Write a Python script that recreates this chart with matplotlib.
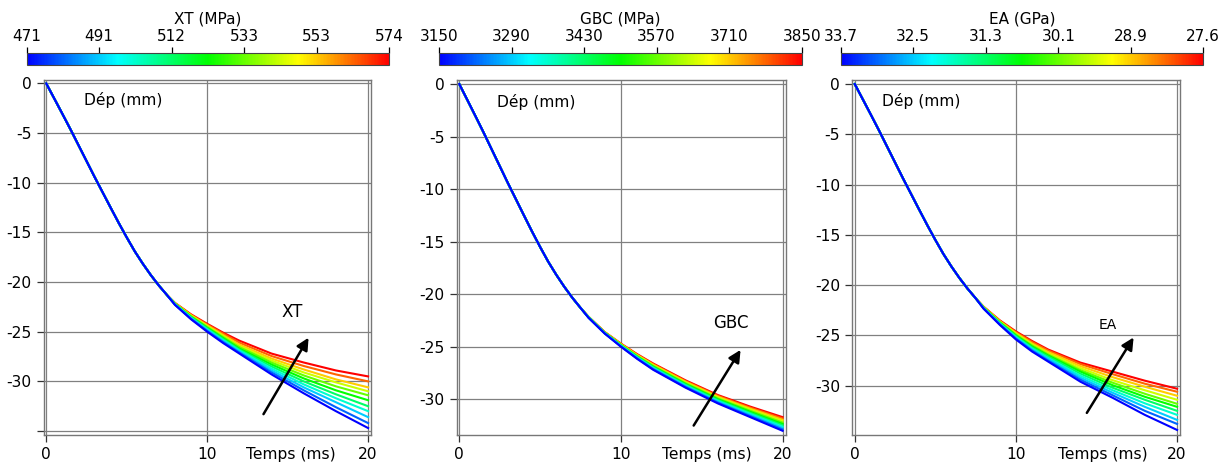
import numpy as np
import matplotlib
matplotlib.use("Agg")
import matplotlib.pyplot as plt
from matplotlib.colors import LinearSegmentedColormap, Normalize
from matplotlib.cm import ScalarMappable

plt.rcParams['font.family'] = ['DejaVu Sans']
plt.rcParams['axes.unicode_minus'] = False

# common start of every curve (time in ms, displacement in mm)
t_head = [0, 0.5, 1, 1.5, 2, 2.5, 3, 3.5, 4, 4.5, 5, 5.5, 6, 6.5, 7, 7.5]
dep_head = [0.0, -1.52, -3.05, -4.6, -6.2, -7.8, -9.4, -10.95, -12.5,
            -14.03, -15.5, -16.9, -18.15, -19.3, -20.35, -21.3]
t_tail = [8, 9, 10, 11, 12, 14, 16, 18, 20]

# tails, from the lowest parameter value (blue) to the highest (red)
xt_tails = [
    [-22.30, -23.75, -25.00, -26.15, -27.20, -29.30, -31.20, -33.00, -34.70],
    [-22.28, -23.70, -24.92, -26.05, -27.10, -29.10, -30.90, -32.60, -34.20],
    [-22.26, -23.65, -24.84, -25.95, -27.00, -28.90, -30.60, -32.10, -33.60],
    [-22.24, -23.60, -24.76, -25.85, -26.90, -28.70, -30.30, -31.70, -33.00],
    [-22.22, -23.55, -24.68, -25.75, -26.80, -28.50, -30.00, -31.30, -32.50],
    [-22.20, -23.50, -24.60, -25.65, -26.70, -28.30, -29.70, -30.90, -31.90],
    [-22.18, -23.45, -24.52, -25.55, -26.55, -28.10, -29.40, -30.50, -31.40],
    [-22.16, -23.40, -24.44, -25.45, -26.45, -27.90, -29.10, -30.10, -31.00],
    [-22.14, -23.35, -24.36, -25.35, -26.30, -27.70, -28.80, -29.80, -30.60],
    [-22.12, -23.30, -24.28, -25.20, -26.10, -27.45, -28.45, -29.30, -30.00],
    [-22.10, -23.25, -24.20, -25.10, -25.90, -27.20, -28.10, -28.90, -29.50],
]
gbc_tails = [
    [-22.25, -23.75, -25.00, -26.15, -27.20, -28.90, -30.40, -31.70, -33.00],
    [-22.24, -23.74, -24.97, -26.11, -27.14, -28.83, -30.32, -31.60, -32.87],
    [-22.23, -23.72, -24.94, -26.06, -27.08, -28.76, -30.24, -31.50, -32.74],
    [-22.22, -23.71, -24.91, -26.02, -27.02, -28.69, -30.16, -31.40, -32.61],
    [-22.21, -23.69, -24.88, -25.97, -26.96, -28.62, -30.08, -31.30, -32.48],
    [-22.20, -23.68, -24.85, -25.93, -26.90, -28.55, -30.00, -31.20, -32.35],
    [-22.19, -23.66, -24.82, -25.88, -26.84, -28.48, -29.92, -31.10, -32.22],
    [-22.18, -23.65, -24.79, -25.84, -26.78, -28.41, -29.84, -31.00, -32.09],
    [-22.17, -23.63, -24.76, -25.79, -26.72, -28.34, -29.76, -30.90, -31.96],
    [-22.16, -23.62, -24.73, -25.75, -26.66, -28.27, -29.68, -30.80, -31.83],
    [-22.15, -23.60, -24.70, -25.70, -26.60, -28.20, -29.60, -30.70, -31.70],
]
ea_tails = [
    [-22.35, -23.95, -25.40, -26.60, -27.60, -29.60, -31.20, -32.90, -34.40],
    [-22.33, -23.90, -25.32, -26.50, -27.50, -29.40, -30.95, -32.50, -33.80],
    [-22.31, -23.86, -25.24, -26.40, -27.35, -29.20, -30.70, -32.10, -33.40],
    [-22.29, -23.81, -25.16, -26.30, -27.25, -29.00, -30.45, -31.75, -32.90],
    [-22.27, -23.77, -25.08, -26.20, -27.10, -28.80, -30.20, -31.40, -32.50],
    [-22.25, -23.72, -25.00, -26.10, -27.00, -28.60, -29.95, -31.10, -32.10],
    [-22.23, -23.68, -24.92, -26.00, -26.90, -28.45, -29.70, -30.80, -31.80],
    [-22.21, -23.63, -24.84, -25.90, -26.80, -28.25, -29.45, -30.45, -31.40],
    [-22.19, -23.59, -24.76, -25.80, -26.65, -28.05, -29.15, -30.10, -31.00],
    [-22.17, -23.54, -24.68, -25.65, -26.50, -27.85, -28.85, -29.80, -30.60],
    [-22.15, -23.50, -24.60, -25.55, -26.40, -27.70, -28.60, -29.50, -30.30],
]

xt_ticks = ["471", "491", "512", "533", "553", "574"]
gbc_ticks = ["3150", "3290", "3430", "3570", "3710", "3850"]
ea_ticks = ["33.7", "32.5", "31.3", "30.1", "28.9", "27.6"]

rainbow = LinearSegmentedColormap.from_list(
    "rainbow5", [(0, 0, 1), (0, 1, 1), (0, 1, 0), (1, 1, 0), (1, 0, 0)])

W, H = 1225, 462


def px_rect(x0, y0, x1, y1):
    return [x0 / W, 1 - y1 / H, (x1 - x0) / W, (y1 - y0) / H]


def draw_panel(fig, rect, cb_rect, tails, cb_labels, cb_title, ylim, yticks,
               ylabels, name, name_xy, name_size, arrow, dep_x, temps_x):
    ax = fig.add_axes(rect)
    n = len(tails)
    # red first, blue on top
    for i in reversed(range(n)):
        t = t_head + t_tail
        y = dep_head + tails[i]
        ax.plot(t, y, color=rainbow(i / (n - 1)), lw=1.5)

    ax.set_xlim(-0.17, 20.18)
    ax.set_ylim(*ylim)
    ax.set_xticks([0, 10, 20])
    ax.set_yticks(yticks)
    ax.set_yticklabels(ylabels)
    ax.grid(True, color='#808080', lw=0.9)
    ax.tick_params(labelsize=11.2, length=5, pad=3.5, width=0.9, color='#333333')
    for s in ax.spines.values():
        s.set_color('#777777')
        s.set_linewidth(1.0)

    ax.text(dep_x, -1.7, "Dép (mm)", fontsize=11.2, ha='center', va='center')
    ax.annotate("Temps (ms)", xy=(temps_x, 0), xycoords=('data', 'axes fraction'),
                xytext=(0, -8.5), textcoords='offset points',
                ha='center', va='top', fontsize=11.2)
    ax.text(name_xy[0], name_xy[1], name, fontsize=name_size,
            ha='center', va='center')
    ax.annotate("", xy=arrow[1], xytext=arrow[0],
                arrowprops=dict(arrowstyle='-|>', lw=1.8, color='k',
                                mutation_scale=18, shrinkA=0, shrinkB=0))

    cax = fig.add_axes(cb_rect)
    cb = fig.colorbar(ScalarMappable(norm=Normalize(0, 1), cmap=rainbow),
                      cax=cax, orientation='horizontal')
    cb.set_ticks(np.linspace(0, 1, len(cb_labels)))
    cb.set_ticklabels(cb_labels)
    cax.xaxis.set_ticks_position('top')
    cax.tick_params(labelsize=11, length=4, pad=2.5, width=0.9)
    cb.outline.set_linewidth(0.8)
    cb.outline.set_edgecolor('#444444')
    x_mid = cb_rect[0] + cb_rect[2] / 2
    fig.text(x_mid, 1 - 19 / H, cb_title, fontsize=11, ha='center', va='center')
    return ax


def main():
    fig = plt.figure(figsize=(W / 100, H / 100), dpi=100)

    yt = [0, -5, -10, -15, -20, -25, -30]
    yl = ["0", "-5", "-10", "-15", "-20", "-25", "-30"]

    draw_panel(fig, px_rect(43.5, 80, 371, 435), px_rect(26.7, 53.3, 389.3, 65),
               xt_tails, xt_ticks, "XT (MPa)", (-35.4, 0.35), yt + [-35], yl + [""],
               "XT", (15.3, -23.0), 12, ((13.5, -33.3), (16.3, -25.6)), 4.8, 15.2)
    draw_panel(fig, px_rect(456.5, 80, 785.5, 435), px_rect(439, 53.3, 801.7, 65),
               gbc_tails, gbc_ticks, "GBC (MPa)", (-33.4, 0.38), yt, yl,
               "GBC", (16.8, -22.7), 12, ((14.5, -32.5), (17.4, -25.3)), 4.76, 15.3)
    draw_panel(fig, px_rect(852, 80, 1180, 435), px_rect(840.7, 53.3, 1203.3, 65),
               ea_tails, ea_ticks, "EA (GPa)", (-34.9, 0.4), yt, yl,
               "EA", (15.7, -24.0), 10, ((14.4, -32.7), (17.3, -25.2)), 4.1, 15.4)

    fig.savefig("out.png", dpi=100)


if __name__ == "__main__":
    main()
